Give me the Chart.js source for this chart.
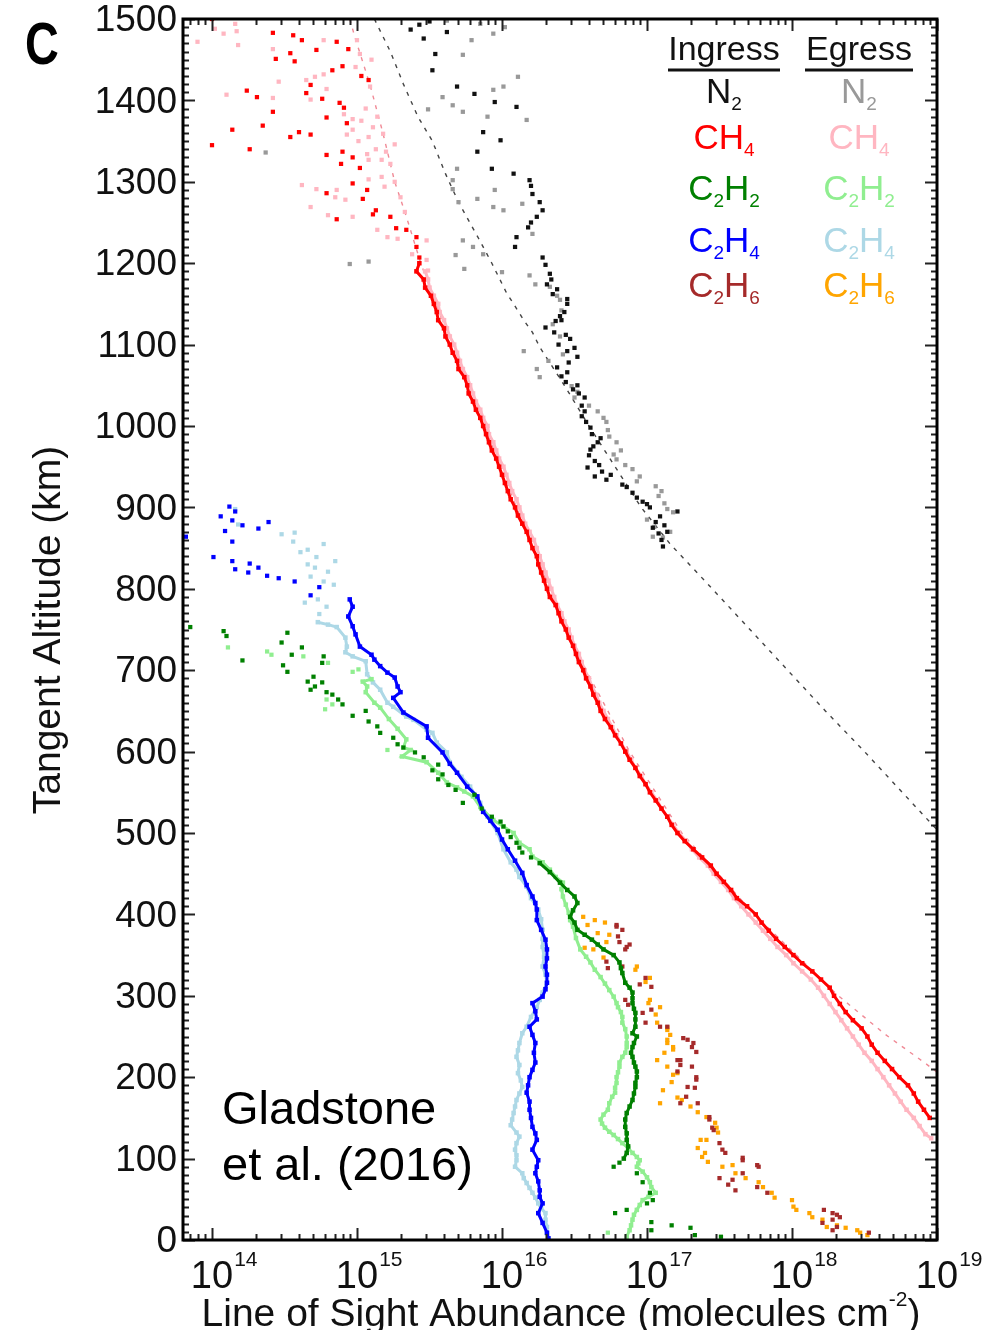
<!DOCTYPE html>
<html>
<head>
<meta charset="utf-8">
<title>Line of sight abundance</title>
<script src="https://cdn.jsdelivr.net/npm/chart.js@4/dist/chart.umd.min.js"></script>
<style>
  html, body { margin: 0; padding: 0; background: #fff; }
  canvas { display: block; }
</style>
</head>
<body>
<canvas id="abundanceChart" width="993" height="1330"></canvas>
<script>
// Each sample is [tangent altitude (km), log10 column (molecules cm^-2)]

const n2Ingress = [
  [1497,15.50],[1493,15.43],[1487,15.37],[1484,15.62],[1476,15.46],[1457,15.54],[1437,15.52],[1417,15.69],
  [1408,15.81],[1398,15.95],[1392,16.10],[1361,15.87],[1351,15.99],[1337,15.83],[1316,15.93],[1310,16.08],
  [1302,16.19],[1295,16.20],[1285,16.21],[1275,16.26],[1265,16.28],[1257,16.24],[1250,16.20],[1244,16.18],
  [1232,16.10],[1220,16.09],[1207,16.28],[1198,16.30],[1187,16.33],[1180,16.34],[1174,16.31],[1168,16.38],
  [1162,16.35],[1156,16.45],[1150,16.45],[1140,16.43],[1135,16.40],[1130,16.41],[1129,16.37],[1121,16.30],
  [1115,16.36],[1112,16.44],[1107,16.47],[1100,16.39],[1096,16.50],[1092,16.45],[1085,16.52],[1078,16.46],
  [1072,16.38],[1066,16.45],[1061,16.41],[1054,16.44],[1050,16.52],[1045,16.49],[1040,16.53],[1035,16.57],
  [1025,16.55],[1018,16.57],[1012,16.55],[1005,16.58],[998,16.61],[990,16.62],[985,16.68],[980,16.66],
  [975,16.63],[971,16.61],[964,16.60],[957,16.64],[952,16.67],[949,16.59],[944,16.69],[940,16.75],
  [938,16.64],[934,16.72],[928,16.83],[925,16.86],[918,16.90],[912,16.93],[907,16.97],[904,17.00],
  [900,17.02],[895,17.21],[889,17.09],[882,17.06],[878,17.12],[875,17.04],[870,17.14],[868,17.08],
  [860,17.10],[852,17.11]
];

const n2Egress = [
  [1498,15.62],[1494,15.85],[1490,16.02],[1482,15.94],[1474,15.79],[1456,15.73],[1429,16.11],[1417,16.01],
  [1413,15.94],[1404,15.59],[1394,15.66],[1389,15.49],[1386,15.73],[1380,15.90],[1376,16.17],[1336,14.37],
  [1316,15.69],[1302,15.66],[1291,15.66],[1290,15.95],[1279,15.83],[1275,15.70],[1273,16.14],[1269,15.94],
  [1265,16.01],[1236,16.21],[1228,15.73],[1220,15.80],[1211,15.87],[1210,15.68],[1202,15.08],[1199,14.95],
  [1193,15.74],[1189,16.00],[1185,16.19],[1174,16.23],[1171,16.33],[1160,16.38],[1155,16.40],[1142,16.41],
  [1125,16.35],[1110,16.40],[1092,16.15],[1088,16.42],[1080,16.32],[1070,16.24],[1060,16.26],[1049,16.48],
  [1042,16.52],[1035,16.50],[1025,16.60],[1018,16.66],[1010,16.70],[1005,16.72],[995,16.73],[987,16.74],
  [980,16.79],[970,16.82],[965,16.77],[959,16.79],[952,16.85],[947,16.90],[938,16.95],[932,16.93],
  [926,17.06],[920,17.10],[914,17.08],[905,17.12],[898,17.14],[894,17.18],[885,17.00],[876,17.05],
  [870,17.16],[864,17.04],[863,17.11]
];

const n2Model = [
  [1500,15.12],[1460,15.23],[1420,15.32],[1380,15.42],[1350,15.52],[1310,15.61],[1275,15.70],[1230,15.84],
  [1200,15.93],[1164,16.03],[1150,16.08],[1130,16.15],[1115,16.21],[1097,16.26],[1050,16.43],[1000,16.60],
  [950,16.78],[900,16.96],[855,17.16],[800,17.45],[750,17.71],[700,17.97],[650,18.23],[600,18.50],
  [550,18.76],[504,19.00],[480,19.12]
];

const ch4Model = [
  [1500,14.95],[1475,14.99],[1419,15.09],[1359,15.18],[1300,15.26],[1263,15.33],[1200,15.44],[1100,15.65],
  [1000,15.88],[900,16.10],[800,16.33],[700,16.58],[600,16.88],[500,17.24],[400,17.74],[350,18.03],
  [300,18.32],[253,18.64],[217,18.92],[190,19.12]
];

const ch4IngressScatter = [
  [1500,14.00],[1483,14.42],[1480,14.56],[1474,14.62],[1472,14.86],[1463,14.94],[1462,14.72],[1458,14.54],
  [1451,14.44],[1448,14.57],[1442,14.90],[1437,14.83],[1430,15.03],[1425,15.08],[1419,14.68],[1412,14.24],
  [1409,14.65],[1404,14.31],[1402,14.76],[1397,14.88],[1391,14.91],[1386,14.42],[1379,14.79],[1372,14.93],
  [1369,14.35],[1364,14.14],[1361,14.60],[1358,14.68],[1355,14.54],[1345,14.00],[1340,14.26],[1337,14.90],
  [1333,14.79],[1330,14.97],[1322,14.89],[1317,15.02],[1298,14.97],[1290,15.07],[1286,14.79],[1279,15.04],
  [1265,15.13],[1260,15.11],[1257,15.23],[1254,14.86],[1243,15.27],[1241,15.34],[1232,15.41],[1220,15.41],
  [1207,15.43]
];

const ch4IngressTrace = [
  [1200,15.43],[1190,15.41],[1180,15.46],[1170,15.47],[1160,15.51],[1150,15.53],[1140,15.55],[1130,15.56],
  [1120,15.60],[1110,15.61],[1100,15.64],[1090,15.66],[1080,15.69],[1070,15.70],[1060,15.74],[1050,15.76],
  [1040,15.77],[1030,15.80],[1020,15.82],[1010,15.85],[1000,15.87],[990,15.89],[980,15.91],[970,15.93],
  [960,15.96],[950,15.98],[940,16.00],[930,16.02],[920,16.04],[910,16.06],[900,16.09],[890,16.11],
  [880,16.14],[870,16.17],[860,16.19],[850,16.21],[840,16.24],[830,16.25],[820,16.27],[810,16.29],
  [800,16.31],[790,16.33],[780,16.37],[770,16.39],[760,16.41],[750,16.44],[740,16.46],[730,16.49],
  [720,16.51],[710,16.53],[700,16.56],[690,16.58],[680,16.61],[670,16.63],[660,16.66],[650,16.68],
  [640,16.71],[630,16.75],[620,16.78],[610,16.82],[600,16.85],[590,16.88],[580,16.92],[570,16.95],
  [560,16.99],[550,17.02],[540,17.06],[530,17.10],[520,17.14],[510,17.17],[500,17.21],[490,17.26],
  [480,17.32],[470,17.38],[460,17.44],[450,17.48],[440,17.53],[430,17.58],[420,17.62],[410,17.69],
  [400,17.75],[390,17.79],[380,17.84],[370,17.89],[360,17.95],[350,18.01],[340,18.07],[330,18.14],
  [320,18.20],[310,18.26],[300,18.29],[290,18.33],[280,18.37],[270,18.42],[260,18.48],[250,18.52],
  [240,18.55],[230,18.59],[220,18.64],[210,18.69],[200,18.74],[190,18.80],[180,18.84],[170,18.87],
  [160,18.91],[150,18.95]
];

const ch4EgressScatter = [
  [1494,14.16],[1488,14.02],[1485,14.17],[1482,14.08],[1474,14.77],[1474,15.00],[1472,13.90],[1468,14.18],
  [1463,14.42],[1457,15.02],[1450,15.10],[1441,14.99],[1432,14.77],[1429,14.71],[1425,14.65],[1423,14.46],
  [1417,15.09],[1414,14.79],[1407,14.10],[1403,14.42],[1401,14.68],[1390,15.06],[1383,14.91],[1380,15.14],
  [1377,14.97],[1375,15.03],[1367,15.11],[1364,14.97],[1359,15.18],[1358,14.93],[1355,15.08],[1350,15.01],
  [1346,15.26],[1340,15.13],[1337,15.20],[1334,15.07],[1327,15.08],[1327,15.17],[1322,15.23],[1306,15.17],
  [1303,15.08],[1300,15.26],[1296,14.62],[1294,15.19],[1291,14.72],[1290,14.86],[1281,14.85],[1281,15.30],
  [1278,14.92],[1269,14.68],[1263,15.33],[1259,14.80],[1257,14.97],[1241,15.14],[1232,15.21],[1230,15.28],
  [1228,15.48],[1211,15.38],[1204,15.48],[1191,15.49]
];

const ch4EgressTrace = [
  [1190,15.47],[1180,15.49],[1170,15.50],[1160,15.53],[1150,15.56],[1140,15.57],[1130,15.60],[1120,15.62],
  [1110,15.64],[1100,15.67],[1090,15.69],[1080,15.71],[1070,15.73],[1060,15.76],[1050,15.78],[1040,15.80],
  [1030,15.82],[1020,15.85],[1010,15.87],[1000,15.90],[990,15.91],[980,15.94],[970,15.96],[960,15.98],
  [950,16.01],[940,16.03],[930,16.05],[920,16.07],[910,16.10],[900,16.12],[890,16.14],[880,16.16],
  [870,16.19],[860,16.22],[850,16.24],[840,16.26],[830,16.28],[820,16.30],[810,16.32],[800,16.34],
  [790,16.36],[780,16.38],[770,16.41],[760,16.43],[750,16.46],[740,16.48],[730,16.50],[720,16.53],
  [710,16.55],[700,16.57],[690,16.60],[680,16.62],[670,16.65],[660,16.67],[650,16.70],[640,16.73],
  [630,16.76],[620,16.79],[610,16.82],[600,16.86],[590,16.89],[580,16.92],[570,16.96],[560,16.99],
  [550,17.03],[540,17.07],[530,17.10],[520,17.14],[510,17.18],[500,17.22],[490,17.27],[480,17.31],
  [470,17.36],[460,17.42],[450,17.46],[440,17.51],[430,17.56],[420,17.60],[410,17.65],[400,17.70],
  [390,17.75],[380,17.80],[370,17.85],[360,17.90],[350,17.96],[340,18.01],[330,18.07],[320,18.13],
  [310,18.18],[300,18.22],[290,18.26],[280,18.30],[270,18.34],[260,18.38],[250,18.42],[240,18.46],
  [230,18.50],[220,18.55],[210,18.59],[200,18.63],[190,18.67],[180,18.71],[170,18.75],[160,18.79],
  [150,18.84],[140,18.88],[130,18.92],[125,18.96]
];

const c2h2IngressScatter = [
  [753,13.85],[748,14.08],[746,14.52],[742,14.10],[734,14.48],[728,14.62],[719,14.55],[717,14.77],
  [712,14.21],[709,14.76],[706,14.49],[698,14.52],[692,14.70],[686,14.66],[685,14.76],[680,14.71],
  [676,14.68],[673,14.79],[670,14.83],[664,14.87],[658,14.90],[650,15.06],[644,14.97],[637,15.08],
  [631,15.14],[623,15.16],[617,15.25],[609,15.28],[605,15.32],[599,15.40],[593,15.46],[584,15.56],
  [577,15.52],[572,15.59],[566,15.56],[559,15.63],[553,15.68],[547,15.81],[537,15.73],[530,15.86],
  [520,15.93],[514,15.99],[508,16.01],[502,16.04],[495,16.06],[488,16.10],[482,16.12],[476,16.14],
  [470,16.20],
  [95,16.81],[90,16.77],[82,16.93],[71,16.97],[58,17.02],[49,17.04],[45,17.00],[37,16.86],
  [33,16.78],[22,17.03],[18,17.17],[15,17.30],[12,17.03],[6,17.33],[4,17.51]
];

const c2h2IngressTrace = [
  [463,16.26],[452,16.33],[439,16.40],[430,16.45],
  [422,16.50],[414,16.52],[405,16.49],[397,16.47],[390,16.50],[381,16.52],[375,16.57],[369,16.62],
  [363,16.66],[357,16.70],[350,16.77],[341,16.81],[334,16.82],[328,16.83],[316,16.85],[310,16.88],
  [304,16.90],[297,16.90],[291,16.90],[284,16.91],[279,16.92],[271,16.92],[262,16.92],[254,16.90],
  [250,16.93],[242,16.91],[237,16.90],[230,16.89],[225,16.90],[218,16.91],[213,16.92],[207,16.93],
  [200,16.93],[193,16.92],[188,16.92],[180,16.91],[172,16.90],[164,16.88],[156,16.86],[148,16.85],
  [139,16.85],[131,16.86],[123,16.86],[115,16.87],[107,16.86],[100,16.84]
];

const c2h2EgressScatter = [
  [728,14.11],[723,14.38],[719,14.41],[717,14.63],[709,14.80],[701,15.01],[698,14.97],[664,14.79],
  [658,14.83],[652,14.78],[602,15.21],[9,16.73]
];

const c2h2EgressTrace = [
  [689,15.10],[686,15.04],[680,15.07],[673,15.06],[660,15.12],[654,15.16],[640,15.22],[628,15.28],
  [615,15.34],[605,15.32],[602,15.37],[594,15.31],[587,15.48],[574,15.56],[562,15.62],[556,15.69],
  [551,15.74],[545,15.80],[532,15.85],[516,15.94],[508,16.01],[500,16.08],[488,16.12],[480,16.19],
  [471,16.21],[464,16.28],[455,16.33],[446,16.37],[439,16.42],[431,16.41],[422,16.42],[412,16.44],
  [402,16.46],[393,16.47],[385,16.49],[371,16.51],[357,16.54],[348,16.58],[341,16.61],[332,16.64],
  [323,16.68],[315,16.71],[307,16.74],[299,16.77],[291,16.79],[286,16.80],[280,16.82],[274,16.83],
  [267,16.83],[259,16.85],[250,16.86],[242,16.86],[237,16.86],[230,16.85],[225,16.83],[218,16.81],
  [213,16.81],[206,16.80],[200,16.79],[193,16.79],[187,16.78],[181,16.78],[176,16.76],[168,16.74],
  [160,16.73],[154,16.70],[148,16.68],[143,16.69],[138,16.71],[133,16.74],[129,16.77],[124,16.80],
  [119,16.83],[113,16.87],[107,16.90],[102,16.93],[98,16.95],[94,16.94],[90,16.93],[84,16.97],
  [77,17.00],[71,17.02],[65,17.03],[58,17.06],[53,17.01],[49,16.97],[43,16.95],[37,16.93],
  [31,16.91],[25,16.90],[18,16.89],[12,16.88],[4,16.86]
];

const c2h4IngressScatter = [
  [901,14.12],[895,14.16],[889,14.06],[884,14.14],[882,14.39],[878,14.21],[874,14.32],[871,14.09],
  [864,13.82],[858,14.14],[839,14.01],[834,14.14],[831,14.26],[826,14.32],[824,14.16],[820,14.25],
  [816,14.38],[813,14.46],[809,14.57],[802,14.74],[792,14.68]
];

const c2h4IngressTrace = [
  [787,14.95],[778,14.97],[766,14.94],[754,14.97],[744,14.99],[729,15.02],[719,15.10],[713,15.12],
  [705,15.16],[697,15.21],[691,15.26],[680,15.28],[673,15.30],[666,15.25],[648,15.32],[631,15.48],
  [617,15.49],[599,15.59],[585,15.64],[574,15.69],[557,15.76],[545,15.83],[526,15.87],[515,15.92],
  [504,15.97],[492,16.00],[480,16.04],[466,16.09],[451,16.14],[436,16.17],[422,16.21],[414,16.23],
  [406,16.24],[393,16.24],[381,16.27],[369,16.30],[357,16.31],[346,16.31],[336,16.30],[326,16.31],
  [316,16.31],[308,16.30],[299,16.28],[291,16.21],[281,16.23],[271,16.24],[262,16.19],[252,16.21],
  [242,16.23],[230,16.22],[218,16.23],[209,16.21],[200,16.19],[190,16.18],[181,16.17],[170,16.19],
  [160,16.19],[150,16.20],[139,16.21],[131,16.23],[123,16.24],[111,16.21],[98,16.25],[90,16.24],
  [82,16.23],[72,16.25],[61,16.26],[53,16.26],[45,16.28],[33,16.25],[21,16.28],[9,16.31],[2,16.32]
];

const c2h4EgressScatter = [
  [898,14.16],[879,14.18],[869,14.57],[867,14.48],[858,14.56],[855,14.77],[848,14.66],[845,14.61],
  [839,14.72],[834,14.85],[830,14.66],[826,14.71],[821,14.80],[815,14.68],[809,14.77],[805,14.84],
  [787,14.73],[783,14.64],[778,14.79],[769,14.74]
];

const c2h4EgressTrace = [
  [759,14.73],[756,14.80],[753,14.86],[740,14.92],[729,14.93],[722,14.92],[717,14.97],[711,15.06],
  [695,15.07],[685,15.11],[676,15.16],[660,15.21],[655,15.25],[643,15.34],[639,15.39],[627,15.48],
  [623,15.52],[611,15.55],[599,15.62],[587,15.64],[569,15.72],[557,15.78],[537,15.85],[520,15.90],
  [500,15.97],[480,16.01],[464,16.06],[455,16.10],[446,16.12],[434,16.17],[420,16.20],[406,16.25],
  [394,16.27],[381,16.28],[370,16.28],[360,16.28],[348,16.29],[336,16.28],[326,16.30],[316,16.31],
  [304,16.28],[295,16.26],[286,16.24],[274,16.20],[262,16.17],[254,16.14],[242,16.12],[233,16.11],
  [225,16.10],[215,16.12],[205,16.11],[196,16.13],[188,16.14],[180,16.12],[172,16.10],[164,16.09],
  [156,16.08],[148,16.07],[141,16.06],[132,16.10],[127,16.12],[119,16.10],[111,16.09],[104,16.10],
  [98,16.10],[90,16.09],[82,16.14],[76,16.15],[70,16.17],[64,16.19],[58,16.21],[52,16.23],
  [45,16.25],[39,16.27],[33,16.30],[25,16.30],[16,16.31],[8,16.31],[2,16.32]
];

const c2h6Ingress = [
  [387,16.79],[385,16.79],[381,16.83],[373,16.80],[366,16.81],[363,16.88],[360,16.86],[357,16.85],
  [342,16.72],[336,16.83],[334,16.73],[322,16.99],[314,16.95],[311,17.03],[295,16.85],[289,16.87],
  [283,17.03],[279,16.97],[267,16.99],[262,17.09],[262,17.14],[248,17.25],[246,17.28],[242,17.32],
  [237,17.31],[231,17.34],[221,17.21],[221,17.23],[215,17.23],[213,17.31],[207,17.21],[200,17.34],
  [197,17.34],[188,17.28],[187,17.33],[176,17.27],[168,17.23],[168,17.35],[151,17.43],[148,17.43],
  [138,17.45],[135,17.46],[119,17.50],[111,17.52],[107,17.54],[101,17.66],[98,17.66],[92,17.76],
  [90,17.77],[82,17.66],[76,17.50],[74,17.59],[68,17.56],[65,17.76],[61,17.61],[58,17.83],
  [37,18.22],[33,18.28],[31,18.31],[28,18.33],[25,18.28],[21,18.21],[16,18.31],[12,18.28],[9,18.53]
];

const c2h6Egress = [
  [397,16.56],[393,16.64],[390,16.71],[387,16.59],[377,16.66],[375,16.74],[366,16.72],[359,16.57],
  [357,16.63],[347,16.70],[336,16.93],[332,16.92],[322,17.02],[317,16.99],[295,17.02],[291,17.01],
  [286,17.09],[277,17.06],[267,17.07],[261,17.14],[258,17.14],[252,17.16],[246,17.14],[242,17.14],
  [237,17.18],[234,17.18],[230,17.12],[221,17.07],[213,17.14],[205,17.21],[203,17.18],[194,17.17],
  [184,17.11],[175,17.21],[172,17.24],[168,17.09],[164,17.30],[157,17.35],[151,17.41],[144,17.47],
  [138,17.48],[132,17.49],[123,17.41],[123,17.37],[113,17.35],[107,17.40],[102,17.38],[96,17.42],
  [92,17.59],[90,17.52],[82,17.61],[76,17.68],[71,17.77],[65,17.80],[58,17.86],[52,17.88],
  [49,18.00],[41,18.01],[37,18.03],[33,18.12],[28,18.14],[25,18.21],[18,18.31],[16,18.24],
  [15,18.37],[12,18.45],[9,18.47],[6,18.52]
];

// axis labels
const altitudeTicks = [0, 100, 200, 300, 400, 500, 600, 700, 800, 900, 1000, 1100, 1200, 1300, 1400, 1500];
const decadeTicks = [14, 15, 16, 17, 18, 19];

// legend: formula pieces as [text, subscript?]
const speciesNames = [
  [["N", 0], ["2", 1]],
  [["CH", 0], ["4", 1]],
  [["C", 0], ["2", 1], ["H", 0], ["2", 1]],
  [["C", 0], ["2", 1], ["H", 0], ["4", 1]],
  [["C", 0], ["2", 1], ["H", 0], ["6", 1]]
];
const ingressColors = ["#111111", "#ff0000", "#008000", "#0000ff", "#a52a2a"];
const egressColors = ["#999999", "#ffb6c1", "#90ee90", "#add8e6", "#ffa500"];

const FONT = '"Liberation Sans", Arial, Helvetica, sans-serif';

function toPoints(pairs) {
    return pairs.map(([alt, logN]) => ({ x: Math.pow(10, logN), y: alt }));
}

function dots(pairs, color) {
    return {
        data: toPoints(pairs),
        showLine: false,
        pointStyle: "rect",
        pointRadius: 3,
        pointBorderWidth: 0,
        pointBackgroundColor: color,
        borderColor: color
    };
}

function trace(pairs, color) {
    return {
        data: toPoints(pairs),
        showLine: true,
        borderColor: color,
        borderWidth: 3,
        tension: 0,
        pointStyle: "rect",
        pointRadius: 3.2,
        pointBorderWidth: 0,
        pointBackgroundColor: color
    };
}

function model(pairs, color) {
    return {
        data: toPoints(pairs),
        showLine: true,
        borderColor: color,
        borderWidth: 1.4,
        borderDash: [4, 6],
        pointRadius: 0,
        tension: 0
    };
}

function drawFormula(ctx, parts, cx, baseline, color) {
    const big = "35px " + FONT, small = "19px " + FONT;
    let w = 0;
    parts.forEach(([t, sub]) => { ctx.font = sub ? small : big; w += ctx.measureText(t).width; });
    let px = cx - w / 2;
    ctx.fillStyle = color;
    ctx.textAlign = "left";
    ctx.textBaseline = "alphabetic";
    parts.forEach(([t, sub]) => {
        ctx.font = sub ? small : big;
        ctx.fillText(t, px, baseline + (sub ? 7 : 0));
        px += ctx.measureText(t).width;
    });
}

/**
 * Frame, inward ticks, labels, legend and annotation
 */
const framePlugin = {
    id: "frame",
    afterDraw(chart) {
        const { ctx, chartArea: a, scales: { x, y } } = chart;
        ctx.save();

        // ticks on all four sides
        ctx.strokeStyle = "#222";
        ctx.lineWidth = 2;
        ctx.beginPath();
        for (let v = 0; v <= 1500; v += 10) {
            const py = Math.round(y.getPixelForValue(v)) + 0.5;
            const len = v % 100 === 0 ? 12 : 6;
            ctx.moveTo(a.left, py); ctx.lineTo(a.left + len, py);
            ctx.moveTo(a.right, py); ctx.lineTo(a.right - len, py);
        }
        for (let d = 13; d <= 19; d++) {
            for (let m = 1; m <= 9; m++) {
                const v = m * Math.pow(10, d);
                if (v < x.min || v > x.max) continue;
                const px = Math.round(x.getPixelForValue(v)) + 0.5;
                const len = m === 1 ? 12 : 6;
                ctx.moveTo(px, a.bottom); ctx.lineTo(px, a.bottom - len);
                ctx.moveTo(px, a.top); ctx.lineTo(px, a.top + len);
            }
        }
        ctx.stroke();

        // plot box
        ctx.lineWidth = 3;
        ctx.strokeStyle = "#000";
        ctx.strokeRect(a.left, a.top, a.right - a.left, a.bottom - a.top);

        // y tick labels
        ctx.fillStyle = "#111";
        ctx.font = "37px " + FONT;
        ctx.textAlign = "right";
        ctx.textBaseline = "middle";
        altitudeTicks.forEach(v => ctx.fillText(String(v), a.left - 6, y.getPixelForValue(v) + 2));

        // x tick labels: 10 with exponent
        ctx.textBaseline = "alphabetic";
        decadeTicks.forEach(d => {
            const px = x.getPixelForValue(Math.pow(10, d));
            ctx.font = "38px " + FONT;
            ctx.textAlign = "center";
            ctx.fillText("10", px, 1288);
            const w = ctx.measureText("10").width;
            ctx.font = "21px " + FONT;
            ctx.textAlign = "left";
            ctx.fillText(String(d), px + w / 2 + 1, 1266);
        });

        // axis titles
        ctx.font = "39px " + FONT;
        ctx.textAlign = "left";
        const main = "Line of Sight Abundance (molecules cm";
        const wMain = ctx.measureText(main).width;
        const wClose = ctx.measureText(")").width;
        ctx.font = "21px " + FONT;
        const wSup = ctx.measureText("-2").width;
        let tx = 561 - (wMain + wSup + wClose) / 2;
        ctx.font = "39px " + FONT;
        ctx.fillText(main, tx, 1326);
        ctx.font = "21px " + FONT;
        ctx.fillText("-2", tx + wMain, 1306);
        ctx.font = "39px " + FONT;
        ctx.fillText(")", tx + wMain + wSup, 1326);

        ctx.save();
        ctx.translate(60, 630);
        ctx.rotate(-Math.PI / 2);
        ctx.textAlign = "center";
        ctx.fillText("Tangent Altitude (km)", 0, 0);
        ctx.restore();

        // panel letter
        ctx.save();
        ctx.translate(25, 64);
        ctx.scale(0.78, 1);
        ctx.font = "bold 60px " + FONT;
        ctx.textAlign = "left";
        ctx.fillStyle = "#000";
        ctx.fillText("C", 0, 0);
        ctx.restore();

        // citation
        ctx.fillStyle = "#000";
        ctx.font = "47px " + FONT;
        ctx.textAlign = "left";
        ctx.fillText("Gladstone", 222, 1124);
        ctx.fillText("et al. (2016)", 222, 1180);

        // legend headers
        ctx.font = "34px " + FONT;
        ctx.textAlign = "center";
        ctx.fillStyle = "#111";
        ctx.fillText("Ingress", 724, 60);
        ctx.fillText("Egress", 859, 60);
        ctx.lineWidth = 3;
        ctx.strokeStyle = "#111";
        ctx.beginPath();
        ctx.moveTo(668, 70); ctx.lineTo(780, 70);
        ctx.moveTo(805, 70); ctx.lineTo(913, 70);
        ctx.stroke();

        const rows = [103, 149, 200, 252, 297];
        speciesNames.forEach((parts, i) => {
            drawFormula(ctx, parts, 724, rows[i], ingressColors[i]);
            drawFormula(ctx, parts, 859, rows[i], egressColors[i]);
        });

        ctx.restore();
    }
};

// first dataset is drawn on top
const datasets = [
    dots(n2Ingress, ingressColors[0]),
    dots(ch4IngressScatter, ingressColors[1]),
    trace(ch4IngressTrace, ingressColors[1]),
    dots(c2h2IngressScatter, ingressColors[2]),
    trace(c2h2IngressTrace, ingressColors[2]),
    dots(c2h4IngressScatter, ingressColors[3]),
    trace(c2h4IngressTrace, ingressColors[3]),
    dots(c2h6Ingress, ingressColors[4]),
    dots(n2Egress, egressColors[0]),
    dots(ch4EgressScatter, egressColors[1]),
    trace(ch4EgressTrace, egressColors[1]),
    dots(c2h2EgressScatter, egressColors[2]),
    trace(c2h2EgressTrace, egressColors[2]),
    dots(c2h4EgressScatter, egressColors[3]),
    trace(c2h4EgressTrace, egressColors[3]),
    dots(c2h6Egress, egressColors[4]),
    model(n2Model, "#444444"),
    model(ch4Model, "#f08a96")
];

new Chart(document.getElementById("abundanceChart"), {
    type: "scatter",
    data: { datasets: datasets },
    plugins: [framePlugin],
    options: {
        responsive: false,
        animation: false,
        devicePixelRatio: 1,
        layout: { padding: { left: 183, right: 56, top: 19, bottom: 90 } },
        plugins: { legend: { display: false }, tooltip: { enabled: false } },
        scales: {
            x: { type: "logarithmic", min: Math.pow(10, 13.8), max: 1e19, display: false },
            y: { type: "linear", min: 0, max: 1500, display: false }
        }
    }
});
</script>
</body>
</html>
